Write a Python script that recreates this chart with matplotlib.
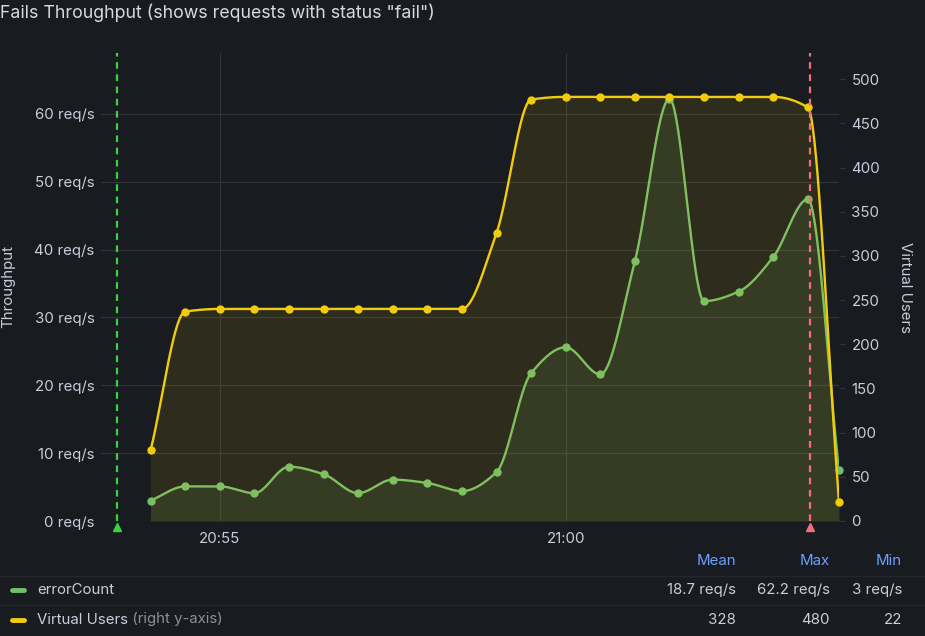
import numpy as np
import pandas as pd
import matplotlib
matplotlib.use('Agg')
import matplotlib.pyplot as plt
import matplotlib.dates as mdates
from matplotlib.lines import Line2D
from matplotlib.transforms import blended_transform_factory

plt.rcParams['font.family'] = ['Inter', 'DejaVu Sans']

# data
times = ['20:54:00', '20:54:30', '20:55:00', '20:55:30', '20:56:00', '20:56:30', '20:57:00',
         '20:57:30', '20:58:00', '20:58:30', '20:59:00', '20:59:30', '21:00:00', '21:00:30',
         '21:01:00', '21:01:30', '21:02:00', '21:02:30', '21:03:00', '21:03:30', '21:03:57']
error_count = [3.0, 5.1, 5.1, 4.1, 8.0, 6.9, 4.1, 6.1, 5.6, 4.4, 7.2,
               21.8, 25.6, 21.6, 38.3, 62.2, 32.4, 33.8, 38.9, 47.4, 7.5]
virtual_users = [80, 237, 240, 240, 240, 240, 240, 240, 240, 240, 326,
                 477, 480, 480, 480, 480, 480, 480, 480, 468, 22]
annotations = [('20:53:31', '#3bd33b'), ('21:03:32', '#f0707a')]
x_start, x_end = '20:53:17', '21:03:57'
left_ticks = [0, 10, 20, 30, 40, 50, 60]
right_ticks = [0, 50, 100, 150, 200, 250, 300, 350, 400, 450, 500]
time_ticks = ['20:55:00', '21:00:00']
stats = [('errorCount', '#73bf69', '', ['18.7 req/s', '62.2 req/s', '3 req/s']),
         ('Virtual Users', '#f2cc0c', ' (right y-axis)', ['328', '480', '22'])]

BG = '#181b1f'
TEXT = '#ccccdc'
GRID = '#303238'
FS = 10.8


def to_num(t):
    return mdates.date2num(pd.to_datetime('2024-01-01 ' + t))


def monotone(x, y, n=40):
    # Fritsch-Carlson monotone cubic, like the smooth lines in grafana
    x = np.asarray(x, float)
    y = np.asarray(y, float)
    h = np.diff(x)
    d = np.diff(y) / h
    m = np.zeros_like(y)
    m[0], m[-1] = d[0], d[-1]
    for k in range(1, len(y) - 1):
        if d[k - 1] * d[k] > 0:
            w1 = 2 * h[k] + h[k - 1]
            w2 = h[k] + 2 * h[k - 1]
            m[k] = (w1 + w2) / (w1 / d[k - 1] + w2 / d[k])
    xs, ys = [], []
    for k in range(len(h)):
        t = np.linspace(0, 1, n, endpoint=(k == len(h) - 1))
        h00 = 2 * t**3 - 3 * t**2 + 1
        h10 = t**3 - 2 * t**2 + t
        h01 = -2 * t**3 + 3 * t**2
        h11 = t**3 - t**2
        xs.append(x[k] + t * h[k])
        ys.append(h00 * y[k] + h10 * h[k] * m[k] + h01 * y[k + 1] + h11 * h[k] * m[k + 1])
    return np.concatenate(xs), np.concatenate(ys)


def px(x, y):
    return x / 925, 1 - y / 636


fig = plt.figure(figsize=(9.25, 6.36), dpi=100, facecolor=BG)
ax = fig.add_axes([101 / 925, 1 - 521 / 636, 738 / 925, 468.3 / 636])
ax2 = ax.twinx()
ax.set_facecolor(BG)

xn = [to_num(t) for t in times]

sx, sy = monotone(xn, error_count)
ax.fill_between(sx, 0, sy, color='#73bf69', alpha=0.1, lw=0)
ax.plot(sx, sy, color='#73bf69', lw=1.7, zorder=3)
ax.plot(xn, error_count, 'o', color='#73bf69', ms=5, zorder=4, clip_on=False)

vx, vy = monotone(xn, virtual_users)
ax2.fill_between(vx, 0, vy, color='#f2cc0c', alpha=0.1, lw=0)
ax2.plot(vx, vy, color='#f2cc0c', lw=1.7, zorder=3)
ax2.plot(xn, virtual_users, 'o', color='#f2cc0c', ms=5, zorder=4, clip_on=False)

ax.set_xlim(to_num(x_start), to_num(x_end))
ax.set_ylim(0, 69)
ax2.set_ylim(0, 530)

# annotation markers
trans = blended_transform_factory(ax2.transData, ax2.transAxes)
for t, c in annotations:
    ax2.axvline(to_num(t), color=c, lw=1.6, ls=(0, (3, 2.5)), zorder=5)
    ax2.plot([to_num(t)], [-0.013], marker='^', color=c, ms=6, transform=trans,
             clip_on=False, zorder=6)

ax.set_yticks(left_ticks)
ax.set_yticklabels([f'{v} req/s' for v in left_ticks])
ax2.set_yticks(right_ticks)
ax.set_xticks([to_num(t) for t in time_ticks])
ax.xaxis.set_major_formatter(mdates.DateFormatter('%H:%M'))

ax.grid(True, color=GRID, lw=0.9)
ax.set_axisbelow(True)
for a in (ax, ax2):
    for s in a.spines.values():
        s.set_visible(False)
ax.tick_params(axis='y', length=0, pad=4.5, labelsize=FS, labelcolor=TEXT)
ax.tick_params(axis='x', length=0, pad=8, labelsize=FS, labelcolor=TEXT)
ax2.tick_params(axis='y', length=4, width=0.9, color=GRID, pad=5, labelsize=FS,
                labelcolor=TEXT)

fig.text(*px(8, 287), 'Throughput', rotation=90, ha='center', va='center',
         fontsize=FS, color=TEXT)
fig.text(*px(905, 287), 'Virtual Users', rotation=270, ha='center', va='center',
         fontsize=FS, color=TEXT)
fig.text(*px(0, 13), 'Fails Throughput (shows requests with status "fail")',
         ha='left', va='center', fontsize=12.8, color='#d8d9e0')

# legend table
cols = [736, 830, 902]
for x, h in zip(cols, ['Mean', 'Max', 'Min']):
    fig.text(*px(x, 561), h, ha='right', va='center', fontsize=FS, color='#6e9fff')
for y in (575.5, 605):
    fig.add_artist(Line2D([0, 1], [1 - y / 636] * 2, color='#25272c', lw=1))
for i, (name, c, extra, vals) in enumerate(stats):
    y = 590 + i * 29.5
    fig.add_artist(Line2D([12 / 925, 24 / 925], [1 - y / 636] * 2, color=c, lw=3.5,
                          solid_capstyle='round'))
    t = fig.text(*px(37, y), name, ha='left', va='center', fontsize=FS, color=TEXT)
    if extra:
        fig.canvas.draw()
        bb = t.get_window_extent()
        fig.text(bb.x1 / 925, 1 - y / 636, extra, ha='left', va='center',
                 fontsize=FS, color='#8e8e98')
    for x, v in zip(cols, vals):
        fig.text(*px(x, y), v, ha='right', va='center', fontsize=FS, color=TEXT)

fig.savefig('out.png', dpi=100, facecolor=BG)
